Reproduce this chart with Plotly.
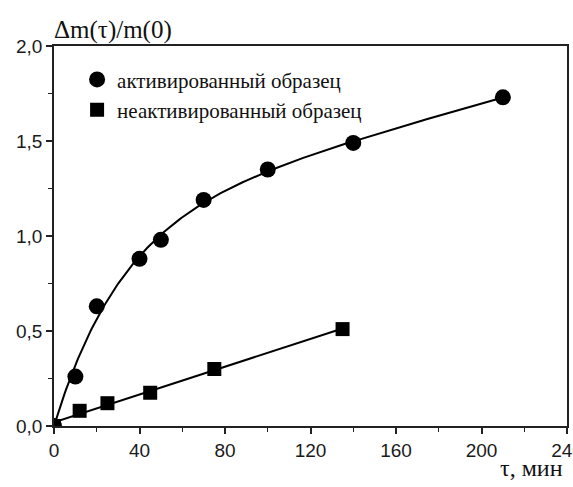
import numpy as np
import plotly.graph_objects as go

# data
act_x = [0, 10, 20, 40, 50, 70, 100, 140, 210]
act_y = [0.0, 0.26, 0.63, 0.88, 0.98, 1.19, 1.35, 1.49, 1.73]
non_x = [0, 12, 25, 45, 75, 135]
non_y = [0.0, 0.08, 0.12, 0.175, 0.30, 0.51]
x_ticks = [0, 40, 80, 120, 160, 200, 240]
y_ticks = [0.0, 0.5, 1.0, 1.5, 2.0]
legend_names = ["активированный образец", "неактивированный образец"]

# smooth least-squares fit for the activated sample: y = A*(1-exp(-x/T)) + B*x
ax = np.array(act_x, float)
ay = np.array(act_y, float)
best = None
for T in np.linspace(5, 200, 400):
    M = np.column_stack([1 - np.exp(-ax / T), ax])
    coef, *_ = np.linalg.lstsq(M, ay, rcond=None)
    res = np.sum((M @ coef - ay) ** 2)
    if best is None or res < best[0]:
        best = (res, T, coef)
_, T, (A, B) = best
curve_x = np.linspace(min(act_x), max(act_x), 300)
curve_y = A * (1 - np.exp(-curve_x / T)) + B * curve_x

# linear fit for the non-activated sample
k, b = np.polyfit(non_x, non_y, 1)
fit_x = np.array([min(non_x), max(non_x)], float)
fit_y = k * fit_x + b

fig = go.Figure()
fig.add_trace(go.Scatter(x=curve_x, y=curve_y, mode="lines", line=dict(color="black", width=2),
                         showlegend=False, hoverinfo="skip"))
fig.add_trace(go.Scatter(x=fit_x, y=fit_y, mode="lines", line=dict(color="black", width=2),
                         showlegend=False, hoverinfo="skip"))
fig.add_trace(go.Scatter(x=act_x, y=act_y, mode="markers", name=legend_names[0],
                         marker=dict(symbol="circle", size=16, color="black")))
fig.add_trace(go.Scatter(x=non_x, y=non_y, mode="markers", name=legend_names[1],
                         marker=dict(symbol="square", size=14, color="black")))

tickfont = dict(family="Liberation Sans, Arial, sans-serif", size=19, color="#1a1a1a")
serif = "Liberation Serif, Times New Roman, serif"
fig.update_layout(
    width=573, height=487,
    margin=dict(l=54, r=6, t=46, b=61),
    paper_bgcolor="white", plot_bgcolor="white",
    separators=", ",
    showlegend=True,
    legend=dict(x=0.045, y=0.965, xanchor="left", yanchor="top", bgcolor="rgba(0,0,0,0)",
                font=dict(family=serif, size=21, color="#111"),
                itemwidth=30, tracegroupgap=0),
    xaxis=dict(range=[0, 240], tickvals=x_ticks, ticks="outside", ticklen=6, tickwidth=1.5, tickcolor="#222",
               showline=True, linecolor="#222", linewidth=1.6, mirror=True, showgrid=False, zeroline=False,
               tickfont=tickfont, ticklabeloverflow="allow", automargin=False,
               minor=dict(dtick=20, ticks="outside", ticklen=4, tickwidth=1.2, tickcolor="#222", showgrid=False)),
    yaxis=dict(range=[0, 2.0], tickvals=y_ticks, tickformat=".1f", ticks="outside", ticklen=6, tickwidth=1.5,
               tickcolor="#222", showline=True, linecolor="#222", linewidth=1.6, mirror=True, showgrid=False,
               zeroline=False, tickfont=tickfont, automargin=False,
               minor=dict(dtick=0.25, ticks="outside", ticklen=4, tickwidth=1.2, tickcolor="#222", showgrid=False)),
    annotations=[
        dict(text="Δm(τ)/m(0)", xref="paper", yref="paper", x=0.0, y=1.0, xanchor="left", yanchor="bottom",
             xshift=-2, yshift=0, showarrow=False,
             font=dict(family=serif, size=25, color="#111")),
        dict(text="τ, мин", xref="paper", yref="paper", x=1.0, y=0, xanchor="right", yanchor="top",
             xshift=-2, yshift=-27, showarrow=False,
             font=dict(family=serif, size=24, color="#111")),
    ],
)

fig.write_html("out.html")
